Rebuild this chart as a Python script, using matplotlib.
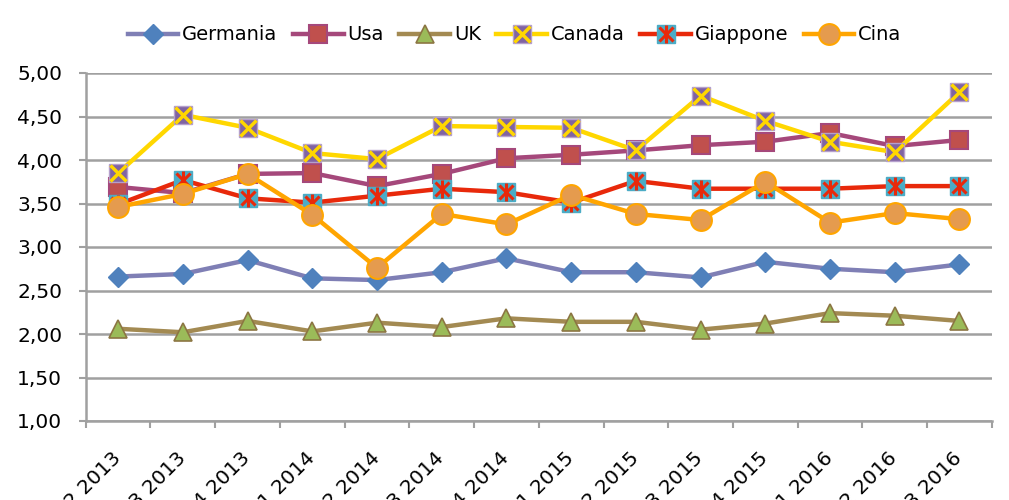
import matplotlib.pyplot as plt
import matplotlib.transforms as mtransforms
from matplotlib.legend_handler import HandlerTuple
from matplotlib.ticker import FuncFormatter

plt.rcParams['font.family'] = ['DejaVu Sans']

quarters = ["2 2013", "3 2013", "4 2013", "1 2014", "2 2014", "3 2014", "4 2014",
            "1 2015", "2 2015", "3 2015", "4 2015", "1 2016", "2 2016", "3 2016"]

germania = [2.66, 2.69, 2.85, 2.64, 2.62, 2.71, 2.87, 2.71, 2.71, 2.65, 2.83, 2.75, 2.71, 2.80]
usa = [3.69, 3.62, 3.84, 3.85, 3.70, 3.84, 4.02, 4.06, 4.11, 4.17, 4.21, 4.31, 4.16, 4.23]
uk = [2.06, 2.02, 2.15, 2.03, 2.13, 2.08, 2.18, 2.14, 2.14, 2.05, 2.12, 2.24, 2.21, 2.15]
canada = [3.85, 4.52, 4.37, 4.08, 4.01, 4.39, 4.38, 4.37, 4.11, 4.74, 4.45, 4.21, 4.09, 4.78]
giappone = [3.49, 3.77, 3.56, 3.51, 3.59, 3.67, 3.63, 3.51, 3.76, 3.67, 3.67, 3.67, 3.70, 3.70]
cina = [3.46, 3.61, 3.84, 3.37, 2.76, 3.38, 3.26, 3.60, 3.38, 3.31, 3.75, 3.28, 3.39, 3.32]

labels = ["Germania", "Usa", "UK", "Canada", "Giappone", "Cina"]

x = list(range(len(quarters)))

fig = plt.figure(figsize=(10.09, 5.0), dpi=100)
ax = fig.add_axes([0.085, 0.158, 0.898, 0.696])

lw = 3.2
handles = []

# Germania
l, = ax.plot(x, germania, color="#7F7FB5", lw=lw, marker="D", ms=10,
             mfc="#4F81BD", mec="#4F81BD", zorder=3)
handles.append(l)
# Usa
l, = ax.plot(x, usa, color="#A5487B", lw=lw, marker="s", ms=13,
             mfc="#C0504D", mec="#A5487B", mew=1.5, zorder=3)
handles.append(l)
# UK
l, = ax.plot(x, uk, color="#A38A52", lw=lw, marker="^", ms=13,
             mfc="#9BBB59", mec="#8C7643", mew=1.2, zorder=3)
handles.append(l)
# Canada: square + yellow x
l1, = ax.plot(x, canada, color="#FFD700", lw=lw, marker="s", ms=13,
              mfc="#8064A2", mec="#B59FCC", mew=1, zorder=4)
l2, = ax.plot(x, canada, ls="none", marker="x", ms=11, mec="#FFD700", mew=2.5, zorder=5)
handles.append((l1, l2))
# Giappone: square + red asterisk
l1, = ax.plot(x, giappone, color="#E8290B", lw=lw, marker="s", ms=13,
              mfc="#4BACC6", mec="#4BACC6", zorder=4)
l2, = ax.plot(x, giappone, ls="none", marker="x", ms=10, mec="#E8290B", mew=2.2, zorder=5)
l3, = ax.plot(x, giappone, ls="none", marker="|", ms=13, mec="#E8290B", mew=2.2, zorder=5)
handles.append((l1, l2, l3))
# Cina
l, = ax.plot(x, cina, color="#FFA500", lw=lw, marker="o", ms=15,
             mfc="#E59B4E", mec="#FFA500", mew=1.5, zorder=6)
handles.append(l)

ax.set_xlim(-0.5, len(quarters) - 0.5)
ax.set_ylim(1.0, 5.0)
ax.set_yticks([1.0, 1.5, 2.0, 2.5, 3.0, 3.5, 4.0, 4.5, 5.0])
ax.yaxis.set_major_formatter(FuncFormatter(lambda v, p: f"{v:.2f}".replace(".", ",")))
ax.grid(axis="y", color="#A0A0A0", lw=1.8)
ax.set_axisbelow(True)

ax.set_xticks([i - 0.5 for i in range(len(quarters) + 1)])
ax.set_xticklabels([])
ax.set_xticks(x, minor=True)
ax.set_xticklabels(quarters, minor=True, rotation=45, ha="right", va="top",
                   rotation_mode="anchor", fontsize=14.5)
ax.tick_params(axis="x", which="minor", length=0, pad=20)
ax.tick_params(axis="x", which="major", length=5, width=1.5, color="#A0A0A0")
ax.tick_params(axis="y", length=5, width=1.5, color="#A0A0A0", labelsize=14.5, pad=12)

shift = mtransforms.ScaledTranslation(-0.07, 0, fig.dpi_scale_trans)
for t in ax.get_xticklabels(minor=True):
    t.set_transform(t.get_transform() + shift)

for s in ["top", "right"]:
    ax.spines[s].set_visible(False)
for s in ["left", "bottom"]:
    ax.spines[s].set_color("#A0A0A0")
    ax.spines[s].set_linewidth(1.8)

fig.legend(handles, labels, loc="center", bbox_to_anchor=(0.51, 0.93), ncol=6,
           frameon=False, fontsize=14, handlelength=2.6, handletextpad=0.2,
           columnspacing=0.8,
           handler_map={tuple: HandlerTuple(ndivide=1, pad=0)})

fig.savefig("out.png", dpi=100)
